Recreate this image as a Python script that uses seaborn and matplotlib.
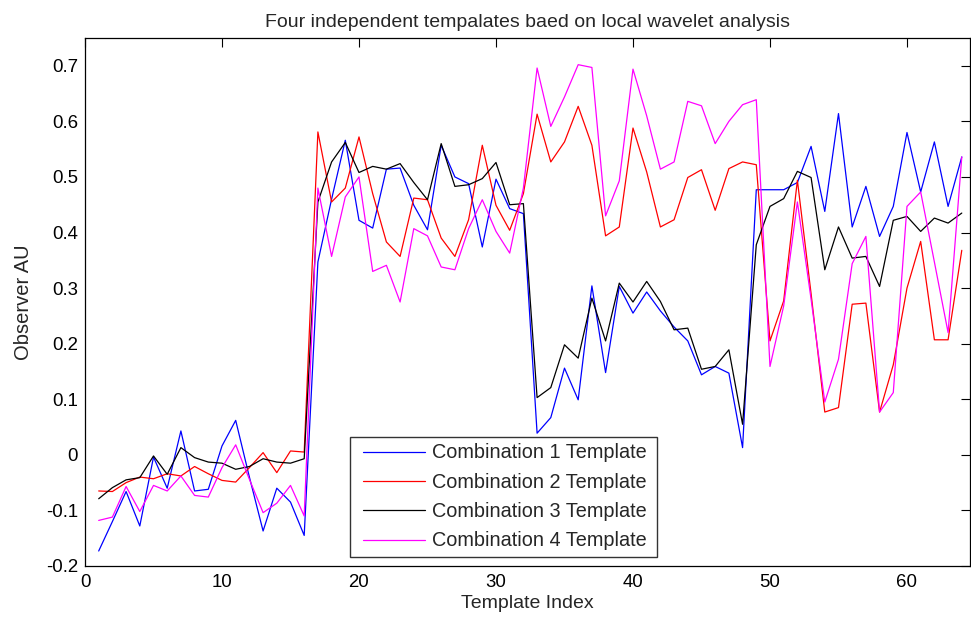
import numpy as np
import pandas as pd
import matplotlib
matplotlib.use("Agg")
import matplotlib.pyplot as plt
from matplotlib.legend_handler import HandlerLine2D
import seaborn as sns

template_index = list(range(1, 65))

combination_1 = [
    -0.173, -0.12, -0.066, -0.128, -0.004, -0.06, 0.043, -0.065, -0.062, 0.016, 0.062, -0.04, -0.137, -0.06, -0.085, -0.145,
    0.347, 0.46, 0.566, 0.422, 0.408, 0.514, 0.516, 0.449, 0.405, 0.557, 0.50, 0.488, 0.374, 0.496, 0.443, 0.434,
    0.039, 0.067, 0.156, 0.099, 0.304, 0.148, 0.303, 0.255, 0.293, 0.259, 0.23, 0.205, 0.144, 0.159, 0.147, 0.013,
    0.477, 0.477, 0.477, 0.49, 0.555, 0.438, 0.614, 0.41, 0.483, 0.393, 0.447, 0.58, 0.473, 0.563, 0.447, 0.536,
]
combination_2 = [
    -0.065, -0.066, -0.05, -0.04, -0.043, -0.034, -0.038, -0.021, -0.034, -0.046, -0.049, -0.023, 0.004, -0.032, 0.007, 0.005,
    0.581, 0.455, 0.48, 0.572, 0.47, 0.383, 0.357, 0.462, 0.459, 0.39, 0.357, 0.423, 0.557, 0.449, 0.404, 0.47,
    0.613, 0.527, 0.563, 0.627, 0.557, 0.394, 0.41, 0.588, 0.509, 0.41, 0.423, 0.499, 0.513, 0.44, 0.515, 0.527,
    0.522, 0.205, 0.277, 0.494, 0.29, 0.077, 0.085, 0.271, 0.273, 0.077, 0.162, 0.30, 0.384, 0.207, 0.207, 0.368,
]
combination_3 = [
    -0.079, -0.059, -0.045, -0.041, -0.002, -0.035, 0.013, -0.005, -0.013, -0.015, -0.026, -0.021, -0.007, -0.013, -0.015, -0.007,
    0.455, 0.527, 0.562, 0.508, 0.519, 0.514, 0.524, 0.49, 0.459, 0.56, 0.483, 0.486, 0.497, 0.526, 0.45, 0.452,
    0.103, 0.121, 0.198, 0.174, 0.282, 0.205, 0.309, 0.275, 0.312, 0.276, 0.225, 0.228, 0.154, 0.159, 0.189, 0.055,
    0.378, 0.447, 0.461, 0.51, 0.499, 0.333, 0.41, 0.354, 0.357, 0.303, 0.422, 0.429, 0.402, 0.426, 0.417, 0.435,
]
combination_4 = [
    -0.118, -0.112, -0.057, -0.102, -0.055, -0.065, -0.038, -0.073, -0.076, -0.023, 0.018, -0.044, -0.104, -0.087, -0.055, -0.11,
    0.48, 0.357, 0.464, 0.50, 0.33, 0.341, 0.275, 0.407, 0.394, 0.338, 0.333, 0.407, 0.459, 0.402, 0.363, 0.48,
    0.696, 0.591, 0.644, 0.702, 0.697, 0.43, 0.493, 0.694, 0.61, 0.514, 0.527, 0.636, 0.628, 0.56, 0.60, 0.63,
    0.639, 0.159, 0.268, 0.455, 0.28, 0.095, 0.172, 0.344, 0.393, 0.077, 0.112, 0.447, 0.473, 0.347, 0.22, 0.536,
]

series_names = ["Combination 1 Template", "Combination 2 Template",
                "Combination 3 Template", "Combination 4 Template"]
series_colors = ["#0000ff", "#ff0000", "#000000", "#ff00ff"]
x_ticks = [0, 10, 20, 30, 40, 50, 60]
y_ticks = [-0.2, -0.1, 0, 0.1, 0.2, 0.3, 0.4, 0.5, 0.6, 0.7]

frames = []
for name, vals in zip(series_names, [combination_1, combination_2, combination_3, combination_4]):
    frames.append(pd.DataFrame({"Template Index": template_index, "Observer AU": vals, "series": name}))
df = pd.concat(frames, ignore_index=True)

sns.set_theme(style="white")
plt.rcParams["font.family"] = ["Liberation Sans", "DejaVu Sans"]

fig = plt.figure(figsize=(9.71, 6.26), dpi=100)
ax = fig.add_axes([85 / 971, 60 / 626, 885 / 971, 528 / 626])

sns.lineplot(data=df, x="Template Index", y="Observer AU", hue="series",
             palette=dict(zip(series_names, series_colors)), hue_order=series_names,
             linewidth=0.9, ax=ax, estimator=None, sort=False)

ax.set_xlim(0, 64.6)
ax.set_ylim(-0.2, 0.75)
ax.set_xticks(x_ticks)
ax.set_xticklabels([f"{t:g}" for t in x_ticks])
ax.set_yticks(y_ticks)
ax.set_yticklabels([f"{t:g}" for t in y_ticks])
ax.tick_params(direction="in", length=6.4, width=0.8, top=True, right=True,
               labelsize=13.4, colors="black")
ax.tick_params(axis="x", pad=6)
ax.tick_params(axis="y", pad=5)
for s in ax.spines.values():
    s.set_color("black")
    s.set_linewidth(0.9)

ax.set_xlabel("Template Index", fontsize=14, labelpad=2.5)
ax.set_ylabel("Observer AU", fontsize=14.5, labelpad=9)
ax.set_title("Four independent tempalates baed on local wavelet analysis", fontsize=14, pad=7.8)

fs = 14.3
leg = ax.legend(loc="lower left", bbox_to_anchor=(0.2994, 0.017, 0.3469, 0.0),
                mode="expand", borderaxespad=0,
                fontsize=fs, frameon=True, fancybox=False, edgecolor="black",
                handlelength=3.45, handletextpad=0.36, labelspacing=0.52, borderpad=0.33,
                handler_map={matplotlib.lines.Line2D: HandlerLine2D(xpad=0.31)})
leg.get_frame().set_linewidth(1.0)

fig.savefig("out.png", dpi=100, facecolor="white")
